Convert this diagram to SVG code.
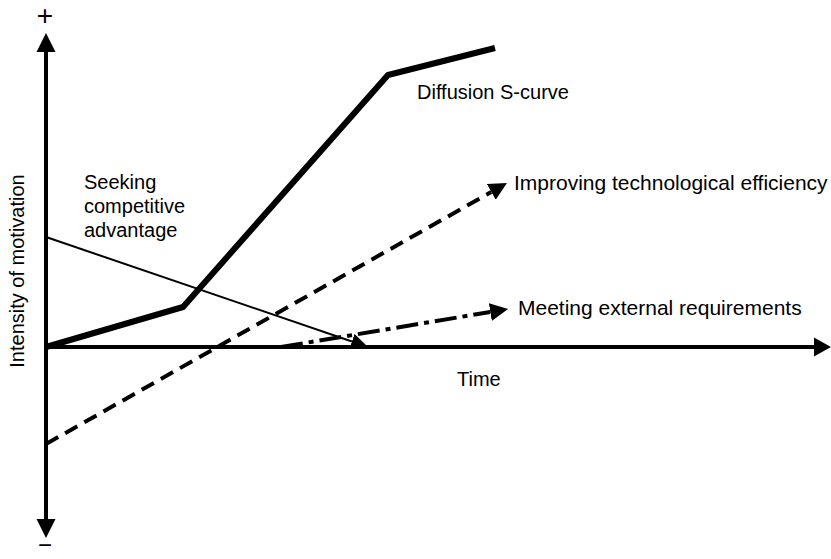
<svg xmlns="http://www.w3.org/2000/svg" width="831" height="559" viewBox="0 0 831 559">
  <style>
    text { font-family: "Liberation Sans", Arial, Helvetica, sans-serif; font-size: 20px; fill: #000; }
    .wide { font-size: 21px; }
    .axis { stroke: #000; stroke-width: 4; fill: none; }
    .thick { stroke: #000; stroke-width: 6; fill: none; stroke-linejoin: miter; }
    .thin { stroke: #000; stroke-width: 2; fill: none; }
    .dash { stroke: #000; stroke-width: 4; fill: none; stroke-dasharray: 14 8; }
    .dashdot { stroke: #000; stroke-width: 4; fill: none; stroke-dasharray: 22 6 5 6; }
    .head { fill: #000; stroke: none; }
  </style>
  <defs>
    <marker id="arr" viewBox="0 0 18 18" refX="0" refY="9" markerWidth="18" markerHeight="18" markerUnits="userSpaceOnUse" orient="auto">
      <path d="M0,0 L18,9 L0,18 Z" class="head"/>
    </marker>
    <marker id="arrSmall" viewBox="0 0 17 16" refX="0" refY="8" markerWidth="17" markerHeight="16" markerUnits="userSpaceOnUse" orient="auto">
      <path d="M0,0 L17,8 L0,16 Z" class="head"/>
    </marker>
  </defs>

  <g id="axes">
    <line class="axis" x1="46" y1="50" x2="46" y2="521"/>
    <polygon class="head" points="46,33 36.5,52 55.5,52"/>
    <polygon class="head" points="46,538 36.5,519 55.5,519"/>
    <line class="axis" x1="44" y1="347" x2="816" y2="347"/>
    <polygon class="head" points="831,347 814,337.5 814,356.5"/>
    <text x="45" y="25" text-anchor="middle" style="font-size:28px">+</text>
    <text x="45" y="553" text-anchor="middle" style="font-size:24px">−</text>
    <text id="ylabel" transform="translate(24,271) rotate(-90)" text-anchor="middle">Intensity of motivation</text>
    <text x="457" y="386">Time</text>
  </g>

  <g id="connectors">
    <polyline id="diffusion-curve" class="thick" points="46,347 183,307 388,75 495,48"/>
    <line id="seeking-line" class="thin" x1="46" y1="237" x2="351.9" y2="341.5" marker-end="url(#arrSmall)"/>
    <line id="improving-line" class="dash" x1="46" y1="444" x2="491.3" y2="191.9" marker-end="url(#arr)"/>
    <line id="meeting-line" class="dashdot" x1="281" y1="347" x2="490.3" y2="312" marker-end="url(#arr)"/>
  </g>

  <g id="label-diffusion">
    <text x="417" y="99">Diffusion S-curve</text>
  </g>
  <g id="label-seeking">
    <text x="84" y="189">Seeking</text>
    <text x="84" y="213">competitive</text>
    <text x="84" y="237">advantage</text>
  </g>
  <g id="label-improving">
    <text class="wide" x="514" y="190">Improving technological efficiency</text>
  </g>
  <g id="label-meeting">
    <text class="wide" x="518" y="315">Meeting external requirements</text>
  </g>
</svg>
